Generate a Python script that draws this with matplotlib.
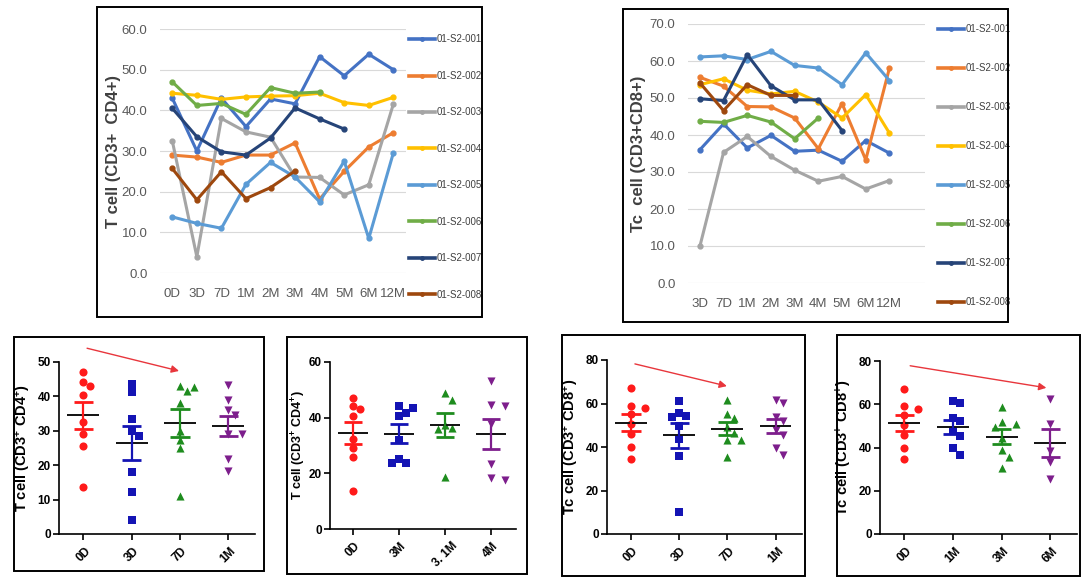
import matplotlib
matplotlib.use("Agg")
import matplotlib.pyplot as plt
import numpy as np
from matplotlib.patches import Rectangle
from matplotlib.lines import Line2D

W, H = 1090, 583

# ---- T cell (CD3+ CD4+) per subject, by visit
cd4_visits = ['0D', '3D', '7D', '1M', '2M', '3M', '4M', '5M', '6M', '12M']
cd4_001 = [43, 30, 43, 36, 42.8, 41.6, 53.2, 48.5, 53.8, 50]
cd4_002 = [29, 28.5, 27.2, 29, 29, 32, 18.2, 25, 31, 34.5]
cd4_003 = [32.5, 4, 38, 34.7, 33.4, 23.6, 23.5, 19.2, 21.7, 41.5]
cd4_004 = [44.2, 43.7, 42.7, 43.3, 43.5, 43.6, 44.2, 41.9, 41.2, 43.2]
cd4_005 = [13.8, 12.2, 11, 21.8, 27.2, 23.6, 17.5, 27.5, 8.5, 29.5]
cd4_006 = [47, 41.2, 41.7, 39, 45.6, 44.2, 44.5]
cd4_007 = [40.5, 33.5, 29.8, 29, 33.2, 40.6, 37.9, 35.4]
cd4_008 = [25.7, 18, 24.9, 18.3, 21, 25.1]

# ---- Tc cell (CD3+ CD8+) per subject, by visit
cd8_visits = ['3D', '7D', '1M', '2M', '3M', '4M', '5M', '6M', '12M']
cd8_001 = [36, 43, 36.5, 39.9, 35.6, 35.9, 32.9, 38.5, 35.1]
cd8_002 = [55.6, 53.2, 47.7, 47.6, 44.6, 36.3, 48.5, 33.3, 58.1]
cd8_003 = [9.9, 35.3, 39.6, 34.2, 30.5, 27.5, 28.8, 25.4, 27.7]
cd8_004 = [53.6, 55.2, 52.1, 51.1, 51.8, 48.9, 44.6, 50.9, 40.5]
cd8_005 = [61.1, 61.4, 60.4, 62.6, 58.8, 58.1, 53.6, 62.2, 54.7]
cd8_006 = [43.7, 43.4, 45.3, 43.5, 39, 44.6]
cd8_007 = [49.8, 49.3, 61.7, 53.3, 49.5, 49.5, 41.2]
cd8_008 = [54.1, 46.6, 53.6, 50.7, 50.7]

# extra groups shown only in the scatter panels
cd8_0d = [67, 59, 58, 55, 50.5, 46, 40, 34.5]
cd4_3_1m = [49, 46.5, 37.3, 36.3, 36, 18.8]

subjects = ['01-S2-001', '01-S2-002', '01-S2-003', '01-S2-004',
            '01-S2-005', '01-S2-006', '01-S2-007', '01-S2-008']
colors = ['#4472C4', '#ED7D31', '#A5A5A5', '#FFC000',
          '#5B9BD5', '#70AD47', '#264478', '#9E480E']
cd4_series = [cd4_001, cd4_002, cd4_003, cd4_004, cd4_005, cd4_006, cd4_007, cd4_008]
cd8_series = [cd8_001, cd8_002, cd8_003, cd8_004, cd8_005, cd8_006, cd8_007, cd8_008]

plt.rcParams['mathtext.fontset'] = 'custom'
plt.rcParams['mathtext.rm'] = 'Liberation Sans:bold'
plt.rcParams['mathtext.it'] = 'Liberation Sans:bold'
plt.rcParams['mathtext.bf'] = 'Liberation Sans:bold'

fig = plt.figure(figsize=(W / 100, H / 100), dpi=100)


def px_axes(x0, y0, x1, y1):
    return fig.add_axes([x0 / W, 1 - y1 / H, (x1 - x0) / W, (y1 - y0) / H])


def frame(x0, y0, x1, y1, lw=1.4):
    fig.add_artist(Rectangle((x0 / W, 1 - y1 / H), (x1 - x0) / W, (y1 - y0) / H,
                             transform=fig.transFigure, fill=False, ec='black', lw=lw))


def col(series, i):
    return [s[i] for s in series if len(s) > i]


# ---------------- top line charts (Excel style)
def line_chart(box, axrect, visits, series, ymax, ylabel, leg_xy, leg_space, label_x):
    frame(*box)
    ax = px_axes(*axrect)
    for s, c, name in zip(series, colors, subjects):
        ax.plot(range(len(s)), s, color=c, lw=2.2, marker='o', ms=3.5, label=name,
                clip_on=False, solid_capstyle='round')
    ax.set_xlim(-0.5, 9.5)
    ax.set_ylim(0, ymax)
    ax.set_yticks(np.arange(0, ymax + 1, 10))
    ax.set_yticklabels(['%.1f' % v for v in np.arange(0, ymax + 1, 10)])
    ax.set_xticks(range(len(visits)))
    ax.set_xticklabels(visits)
    ax.grid(axis='y', color='#D9D9D9', lw=0.8)
    ax.set_axisbelow(True)
    for sp in ax.spines.values():
        sp.set_visible(False)
    ax.tick_params(length=0, labelsize=9.5, colors='#595959', pad=9)
    ax.tick_params(axis='x', pad=11)
    for t in ax.get_xticklabels() + ax.get_yticklabels():
        t.set_family('Liberation Sans')
    ax.set_ylabel(ylabel, fontsize=12, fontweight='bold', color='#404040', family='Liberation Sans')
    ax.yaxis.set_label_coords(label_x, 0.5)
    handles = [Line2D([], [], color=c, lw=2.6, marker='o', ms=2.5) for c in colors]
    ax.legend(handles, subjects, loc='upper left', bbox_to_anchor=(leg_xy[0] / W, 1 - leg_xy[1] / H),
              bbox_transform=fig.transFigure, frameon=False,
              prop={'family': 'Liberation Sans', 'size': 7},
              labelspacing=leg_space, handlelength=2.7, handletextpad=0.1, borderpad=0,
              borderaxespad=0, labelcolor='#404040')
    return ax


line_chart((97, 7, 482, 317), (160, 29, 405.6, 273), cd4_visits, cd4_series, 60,
           'T cell (CD3+  CD4+)', (409, 34.5), 2.72, -0.16)
line_chart((623, 9, 1008, 322), (688, 24, 925, 283), cd8_visits, cd8_series, 70,
           'Tc  cell (CD3+CD8+)', (938, 24.5), 2.98, -0.177)


# ---------------- bottom column scatter charts (GraphPad style)
gp_colors = ['#FF1A1A', '#1414B4', '#1E8C1E', '#7D1E8C']
gp_markers = ['o', 's', '^', 'v']


def swarm(vals, ppu, ppc, diam=7.5):
    order = np.argsort(vals)[::-1]
    placed = []
    offs = np.zeros(len(vals))
    for i in order:
        y = vals[i] * ppu
        for k in [0, 1, -1, 2, -2, 3, -3]:
            x = k * 7.0
            if all((x - px) ** 2 + (y - py) ** 2 >= diam ** 2 for px, py in placed):
                break
        placed.append((x, y))
        offs[i] = x / ppc
    return offs


def scatter_chart(box, axrect, groups, labels, ymax, ystep, ylabel, arrow,
                  label_size=10.5, label_off=26.0):
    frame(*box)
    ax = px_axes(*axrect)
    xr = 3.55
    ax.set_xlim(-0.5, xr)
    ax.set_ylim(0, ymax)
    ppu = (axrect[3] - axrect[1]) / ymax
    ppc = (axrect[2] - axrect[0]) / (xr + 0.5)
    for i, (g, c, m) in enumerate(zip(groups, gp_colors, gp_markers)):
        g = np.array(g, dtype=float)
        off = swarm(g, ppu, ppc)
        ax.scatter(i + off, g, s=34, marker=m, color=c, lw=0, zorder=2)
        mean = g.mean()
        sem = g.std(ddof=1) / np.sqrt(len(g))
        ax.hlines(mean, i - 0.33, i + 0.33, color='#111111', lw=1.4, zorder=3)
        ax.vlines(i, mean - sem, mean + sem, color=c, lw=1.6, zorder=3)
        ax.hlines([mean - sem, mean + sem], i - 0.2, i + 0.2, color=c, lw=2, zorder=3)
    ax.set_yticks(np.arange(0, ymax + 1, ystep))
    ax.set_xticks(range(len(labels)))
    ax.set_xticklabels(labels, rotation=45, ha='center')
    for s in ['top', 'right']:
        ax.spines[s].set_visible(False)
    for s in ['left', 'bottom']:
        ax.spines[s].set_linewidth(1.2)
    ax.tick_params(direction='out', length=4, width=1.2, labelsize=8.5, pad=2)
    ax.tick_params(axis='x', pad=4)
    for t in ax.get_xticklabels() + ax.get_yticklabels():
        t.set_family('Liberation Sans')
        t.set_fontweight('bold')
    ax.set_ylabel(ylabel, fontsize=label_size, fontweight='bold', family='Liberation Sans')
    ax.yaxis.set_label_coords(-label_off / (axrect[2] - axrect[0]), 0.5)
    if arrow is not None:
        (x0, y0), (x1, y1) = arrow
        ax.annotate('', xy=(x1, y1), xytext=(x0, y0), annotation_clip=False,
                    arrowprops=dict(arrowstyle='-|>', color='#E8363C', lw=1.0, mutation_scale=11,
                                    shrinkA=0, shrinkB=0))
    return ax


cd4_lab = 'T cell (CD3$^{+}$ CD4$^{+}$)'
cd8_lab = 'Tc cell (CD3$^{+}$ CD8$^{+}$)'

scatter_chart((14, 337, 264, 571), (59, 362, 255, 534),
              [col(cd4_series, 0), col(cd4_series, 1), col(cd4_series, 2), col(cd4_series, 3)],
              ['0D', '3D', '7D', '1M'], 50, 10, cd4_lab, ((0.08, 54), (1.98, 47.4)))
scatter_chart((287, 337, 527, 574), (330, 362, 516, 529),
              [col(cd4_series, 0), col(cd4_series, 5), cd4_3_1m, col(cd4_series, 6)],
              ['0D', '3M', '3. 1M', '4M'], 60, 20, cd4_lab, None, label_size=9, label_off=22.0)
scatter_chart((562, 335, 805, 576), (607, 360, 802, 534),
              [cd8_0d, col(cd8_series, 0), col(cd8_series, 1), col(cd8_series, 2)],
              ['0D', '3D', '7D', '1M'], 80, 20, cd8_lab, ((0.08, 78.2), (1.99, 68)))
scatter_chart((837, 335, 1080, 576), (880, 361, 1077, 534),
              [cd8_0d, col(cd8_series, 2), col(cd8_series, 4), col(cd8_series, 7)],
              ['0D', '1M', '3M', '6M'], 80, 20, cd8_lab, ((0.12, 77.8), (2.92, 67.6)))

fig.savefig('out.png', dpi=100)
